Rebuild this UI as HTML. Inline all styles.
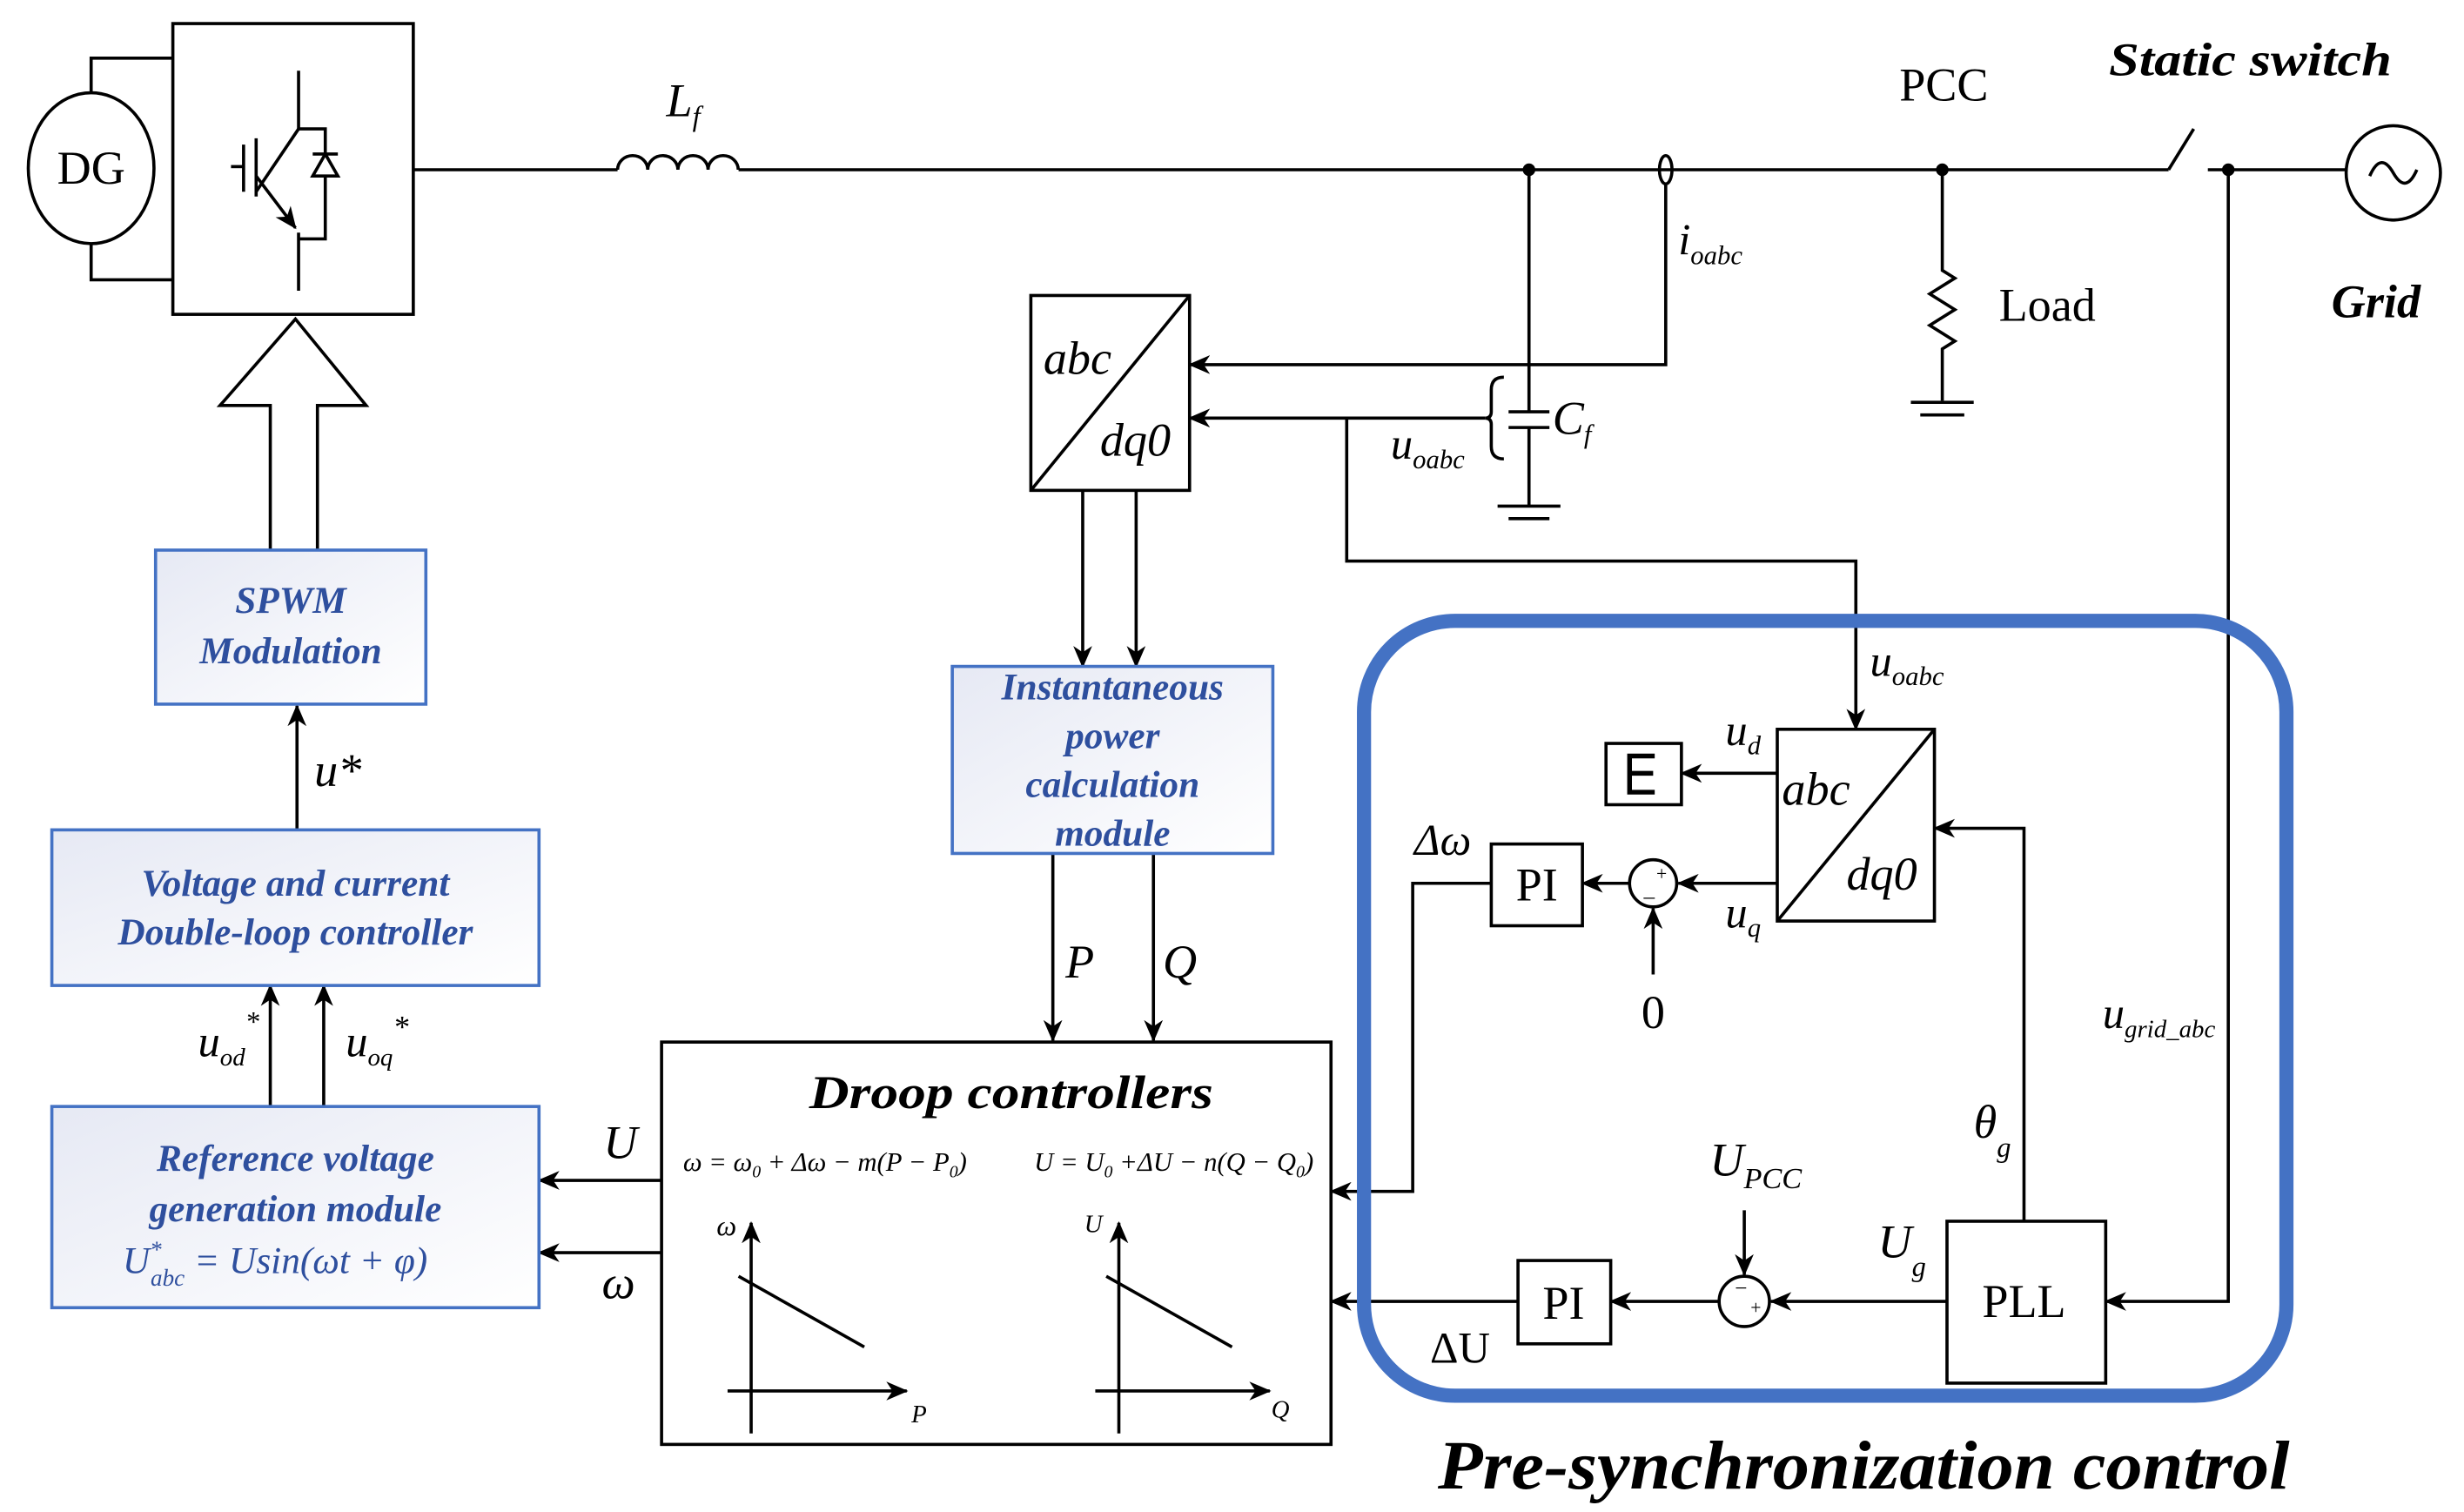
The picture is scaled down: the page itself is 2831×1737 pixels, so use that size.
<!DOCTYPE html>
<html><head><meta charset="utf-8"><style>
html,body{margin:0;padding:0;background:#fff}
svg{display:block}
text{font-family:"Liberation Serif",serif}
.b{fill:#2e4f9e;font-weight:bold;font-style:italic;font-size:24px}
.i{font-style:italic}
</style></head><body>
<svg width="2831" height="1737" viewBox="0 0 1568 962" preserveAspectRatio="none" xmlns="http://www.w3.org/2000/svg">
<defs>
<marker id="a" markerWidth="14" markerHeight="12" refX="13" refY="6" orient="auto" markerUnits="userSpaceOnUse"><path d="M0,0 L14,6 L0,12 L4,6 z" fill="#000"/></marker>
<linearGradient id="g" x1="0" y1="0" x2="1" y2="1"><stop offset="0" stop-color="#e6e9f4"/><stop offset="1" stop-color="#fff"/></linearGradient>
</defs>
<g stroke="#000" stroke-width="2" fill="none">
<ellipse cx="58" cy="107" rx="40" ry="48"/>
<polyline points="58,59 58,37 110,37"/>
<polyline points="58,155 58,178 110,178"/>
<rect x="110" y="15" width="153" height="185"/>
<line x1="190" y1="45" x2="190" y2="82"/>
<line x1="190" y1="82" x2="163" y2="122"/>
<line x1="163" y1="88" x2="163" y2="125"/>
<line x1="155" y1="92" x2="155" y2="122"/>
<line x1="147" y1="106" x2="155" y2="106"/>
<line x1="163" y1="112" x2="188" y2="145" marker-end="url(#a)"/>
<line x1="190" y1="148" x2="190" y2="185"/>
<polyline points="190,82 207,82 207,152 190,152"/>
<polygon points="199,112 215,112 207,98" fill="#fff"/>
<line x1="199" y1="98" x2="215" y2="98"/>
<line x1="263" y1="108" x2="393" y2="108"/>
<path d="M393,108 a9.6,9 0 0 1 19.2,0 a9.6,9 0 0 1 19.2,0 a9.6,9 0 0 1 19.2,0 a9.6,9 0 0 1 19.2,0"/>
<line x1="470" y1="108" x2="1380" y2="108"/>
<line x1="1380" y1="108" x2="1396" y2="82"/>
<line x1="1405" y1="108" x2="1493" y2="108"/>
<circle cx="1523" cy="110" r="30"/>
<path d="M1508,112 q7,-16 15,-2 q8,14 15,-2"/>
<ellipse cx="1060" cy="108" rx="4" ry="9"/>
<line x1="973" y1="108" x2="973" y2="262"/>
<line x1="960" y1="262" x2="986" y2="262"/>
<line x1="960" y1="272" x2="986" y2="272"/>
<line x1="973" y1="272" x2="973" y2="322"/>
<line x1="953" y1="322" x2="993" y2="322"/>
<line x1="960" y1="330" x2="986" y2="330"/>
<path d="M957,240 q-8,0 -8,8 v14 q0,4 -4,4 q4,0 4,4 v14 q0,8 8,8"/>
<polyline points="1060,117 1060,232 757,232" marker-end="url(#a)"/>
<line x1="945" y1="266" x2="757" y2="266" marker-end="url(#a)"/>
<polyline points="857,266 857,357 1181,357 1181,464" marker-end="url(#a)"/>
<polyline points="1236,108 1236,172 1244,177 1228,187 1244,197 1228,207 1244,217 1236,222 1236,255"/>
<line x1="1216" y1="256" x2="1256" y2="256"/>
<line x1="1222" y1="264" x2="1250" y2="264"/>
<rect x="656" y="188" width="101" height="124"/>
<line x1="656" y1="312" x2="757" y2="188"/>
<line x1="689" y1="312" x2="689" y2="424" marker-end="url(#a)"/>
<line x1="723" y1="312" x2="723" y2="424" marker-end="url(#a)"/>
<line x1="670" y1="543" x2="670" y2="662" marker-end="url(#a)"/>
<line x1="734" y1="543" x2="734" y2="662" marker-end="url(#a)"/>
<rect x="421" y="663" width="426" height="256"/>
<line x1="478" y1="912" x2="478" y2="778" marker-end="url(#a)"/>
<line x1="463" y1="885" x2="577" y2="885" marker-end="url(#a)"/>
<line x1="470" y1="812" x2="550" y2="857"/>
<line x1="712" y1="912" x2="712" y2="778" marker-end="url(#a)"/>
<line x1="697" y1="885" x2="808" y2="885" marker-end="url(#a)"/>
<line x1="704" y1="812" x2="784" y2="857"/>
<line x1="421" y1="751" x2="343" y2="751" marker-end="url(#a)"/>
<line x1="421" y1="797" x2="343" y2="797" marker-end="url(#a)"/>
<polyline points="172,350 172,258 140,258 188,203 233,258 202,258 202,350"/>
<line x1="189" y1="528" x2="189" y2="449" marker-end="url(#a)"/>
<line x1="172" y1="704" x2="172" y2="627" marker-end="url(#a)"/>
<line x1="206" y1="704" x2="206" y2="627" marker-end="url(#a)"/>
<rect x="1131" y="464" width="100" height="122"/>
<line x1="1131" y1="586" x2="1231" y2="464"/>
<line x1="1131" y1="492" x2="1070" y2="492" marker-end="url(#a)"/>
<rect x="1022" y="473" width="48" height="39"/>
<polyline points="1053,481 1037,481 1037,504 1053,504" stroke-width="3"/>
<line x1="1037" y1="492" x2="1052" y2="492" stroke-width="3"/>
<line x1="1131" y1="562" x2="1068" y2="562" marker-end="url(#a)"/>
<circle cx="1052" cy="562" r="15"/>
<line x1="1052" y1="620" x2="1052" y2="578" marker-end="url(#a)"/>
<line x1="1037" y1="562" x2="1007" y2="562" marker-end="url(#a)"/>
<rect x="949" y="537" width="58" height="52"/>
<polyline points="949,562 899,562 899,758 847,758" marker-end="url(#a)"/>
<polyline points="1288,777 1288,527 1231,527" marker-end="url(#a)"/>
<polyline points="1418,108 1418,828 1340,828" marker-end="url(#a)"/>
<rect x="1239" y="777" width="101" height="103"/>
<line x1="1239" y1="828" x2="1127" y2="828" marker-end="url(#a)"/>
<circle cx="1110" cy="828" r="16"/>
<line x1="1110" y1="770" x2="1110" y2="811" marker-end="url(#a)"/>
<line x1="1094" y1="828" x2="1025" y2="828" marker-end="url(#a)"/>
<rect x="966" y="802" width="59" height="53"/>
<line x1="966" y1="828" x2="847" y2="828" marker-end="url(#a)"/>
</g>
<g fill="#000" stroke="none">
<circle cx="973" cy="108" r="4"/><circle cx="1236" cy="108" r="4"/><circle cx="1418" cy="108" r="4"/>
</g>
<g fill="url(#g)" stroke="#4472c4" stroke-width="2">
<rect x="99" y="350" width="172" height="98"/>
<rect x="33" y="528" width="310" height="99"/>
<rect x="33" y="704" width="310" height="128"/>
<rect x="606" y="424" width="204" height="119"/>
</g>
<rect x="868" y="395" width="587" height="493" rx="58" fill="none" stroke="#4472c4" stroke-width="9"/>
<g font-size="28">
<text x="58" y="117" text-anchor="middle" font-size="30">DG</text>
<text x="424" y="74" class="i" font-size="30">L<tspan font-size="18" dy="6">f</tspan></text>
<text x="1237" y="64" text-anchor="middle" font-size="30">PCC</text>
<text x="1342" y="48" font-weight="bold" font-style="italic" font-size="30" textLength="180" lengthAdjust="spacingAndGlyphs">Static switch</text>
<text x="1512" y="202" text-anchor="middle" font-weight="bold" font-style="italic" font-size="30">Grid</text>
<text x="1272" y="204" font-size="30">Load</text>
<text x="1068" y="162" class="i">i<tspan font-size="17" dy="6">oabc</tspan></text>
<text x="988" y="276" class="i" font-size="30">C<tspan font-size="17" dy="6">f</tspan></text>
<text x="885" y="292" class="i">u<tspan font-size="17" dy="6">oabc</tspan></text>
<text x="664" y="238" class="i" font-size="30">abc</text>
<text x="700" y="290" class="i" font-size="30">dq0</text>
<text x="678" y="622" class="i" font-size="30">P</text>
<text x="740" y="622" class="i" font-size="30">Q</text>
<text x="384" y="737" class="i" font-size="30">U</text>
<text x="383" y="826" class="i" font-size="30">ω</text>
<text x="200" y="500" class="i" font-size="30">u*</text>
<text x="126" y="672" class="i" font-size="28">u<tspan font-size="16" dy="6">od</tspan><tspan font-size="18" dy="-22">*</tspan></text>
<text x="220" y="672" class="i" font-size="28">u<tspan font-size="16" dy="6">oq</tspan><tspan font-size="20" dy="-18">*</tspan></text>
<text x="515" y="705" font-weight="bold" font-style="italic" font-size="30" textLength="257" lengthAdjust="spacingAndGlyphs">Droop controllers</text>
<text x="525" y="745" text-anchor="middle" class="i" font-size="17">ω = ω<tspan font-size="11" dy="4">0</tspan><tspan dy="-4"> + Δω − m(P − P</tspan><tspan font-size="11" dy="4">0</tspan><tspan dy="-4">)</tspan></text>
<text x="747" y="745" text-anchor="middle" class="i" font-size="17">U = U<tspan font-size="11" dy="4">0</tspan><tspan dy="-4"> +ΔU − n(Q − Q</tspan><tspan font-size="11" dy="4">0</tspan><tspan dy="-4">)</tspan></text>
<text x="456" y="786" class="i" font-size="18">ω</text>
<text x="580" y="905" class="i" font-size="16">P</text>
<text x="690" y="784" class="i" font-size="16">U</text>
<text x="809" y="902" class="i" font-size="16">Q</text>
<text x="185" y="390" text-anchor="middle" class="b">SPWM</text>
<text x="185" y="422" text-anchor="middle" class="b">Modulation</text>
<text x="188" y="570" text-anchor="middle" class="b">Voltage and current</text>
<text x="188" y="601" text-anchor="middle" class="b">Double-loop controller</text>
<text x="188" y="745" text-anchor="middle" class="b">Reference voltage</text>
<text x="188" y="777" text-anchor="middle" class="b">generation module</text>
<text x="78" y="810" fill="#2e4f9e" class="i" font-size="24">U<tspan font-size="15" dy="-10">*</tspan><tspan font-size="15" dx="-7" dy="18">abc</tspan><tspan dy="-8"> = Usin(ωt + φ)</tspan></text>
<text x="708" y="445" text-anchor="middle" class="b">Instantaneous</text>
<text x="708" y="476" text-anchor="middle" class="b">power</text>
<text x="708" y="507" text-anchor="middle" class="b">calculation</text>
<text x="708" y="538" text-anchor="middle" class="b">module</text>
<text x="1190" y="430" class="i">u<tspan font-size="17" dy="6">oabc</tspan></text>
<text x="1098" y="474" class="i">u<tspan font-size="17" dy="6">d</tspan></text>
<text x="1098" y="590" class="i">u<tspan font-size="17" dy="6">q</tspan></text>
<text x="1134" y="512" class="i" font-size="30">abc</text>
<text x="1175" y="566" class="i" font-size="30">dq0</text>
<text x="978" y="573" text-anchor="middle" font-size="30">PI</text>
<text x="1052" y="654" text-anchor="middle" font-size="30">0</text>
<text x="900" y="544" class="i" font-size="28">Δω</text>
<text x="1054" y="560" font-size="12">+</text>
<text x="1046" y="575" font-size="14">–</text>
<text x="1256" y="724" class="i" font-size="30">θ<tspan font-size="18" dy="12">g</tspan></text>
<text x="1338" y="654" class="i">u<tspan font-size="16" dy="6">grid_abc</tspan></text>
<text x="1288" y="838" text-anchor="middle" font-size="30">PLL</text>
<text x="1088" y="748" class="i" font-size="30">U<tspan font-size="19" dy="8">PCC</tspan></text>
<text x="1195" y="800" class="i" font-size="30">U<tspan font-size="18" dy="12">g</tspan></text>
<text x="1104" y="824" font-size="14">−</text>
<text x="1114" y="836" font-size="12">+</text>
<text x="995" y="839" text-anchor="middle" font-size="30">PI</text>
<text x="910" y="867" font-size="28">ΔU</text>
<text x="915" y="947" font-weight="bold" font-style="italic" font-size="44" textLength="542" lengthAdjust="spacingAndGlyphs">Pre-synchronization control</text>
</g>
</svg>
</body></html>
